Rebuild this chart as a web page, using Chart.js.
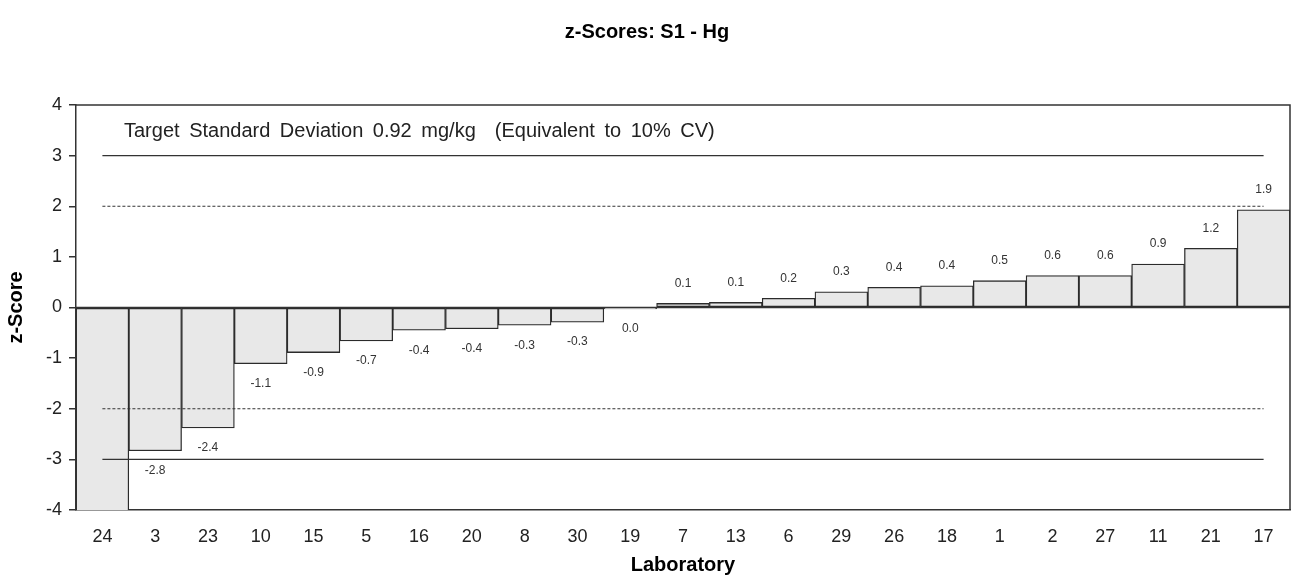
<!DOCTYPE html>
<html>
<head>
<meta charset="utf-8">
<script src="https://cdn.jsdelivr.net/npm/chart.js@4"></script>
<style>
  html, body { margin: 0; background: #fff; }
  #wrap { width: 1300px; height: 580px; }
</style>
</head>
<body>
<div id="wrap"><canvas id="zChart"></canvas></div>
<script>
// laboratories, sorted by z-score
const labs = ["24", "3", "23", "10", "15", "5", "16", "20", "8", "30", "19", "7",
              "13", "6", "29", "26", "18", "1", "2", "27", "11", "21", "17"];
// z-scores (lab 24 runs off the bottom of the axis)
const zScores = [-4.6, -2.83, -2.38, -1.11, -0.89, -0.66, -0.45, -0.42, -0.35, -0.29, -0.03, 0.08,
                 0.10, 0.18, 0.31, 0.40, 0.43, 0.53, 0.63, 0.63, 0.86, 1.17, 1.93];
const yTicks = [-4, -3, -2, -1, 0, 1, 2, 3, 4];
const actionLimits = [-3, 3];
const warningLimits = [-2, 2];
const noteText = "Target Standard Deviation 0.92 mg/kg  (Equivalent to 10% CV)";

const F = '"Liberation Sans", Arial, sans-serif';

// box, limit lines, value labels and the note
const zPlugin = {
  id: 'zExtras',
  beforeDatasetsDraw(chart) {
    const { ctx, chartArea: a } = chart;
    ctx.save();
    ctx.strokeStyle = '#333';
    ctx.lineWidth = 1.5;
    ctx.beginPath();
    ctx.moveTo(a.left, a.top);
    ctx.lineTo(a.right, a.top);
    ctx.lineTo(a.right, a.bottom);
    ctx.stroke();
    ctx.restore();
  },
  afterDatasetsDraw(chart) {
    const { ctx, chartArea: a, scales: { x, y } } = chart;
    const x0 = x.getPixelForValue(0);
    const x1 = x.getPixelForValue(labs.length - 1);
    ctx.save();
    ctx.strokeStyle = '#333';

    // zero line
    ctx.lineWidth = 1.5;
    const y0 = y.getPixelForValue(0);
    ctx.beginPath();
    ctx.moveTo(a.left, y0);
    ctx.lineTo(a.right, y0);
    ctx.stroke();

    // +-3 solid
    ctx.lineWidth = 1.2;
    actionLimits.forEach(v => {
      const py = y.getPixelForValue(v);
      ctx.beginPath();
      ctx.moveTo(x0, py);
      ctx.lineTo(x1, py);
      ctx.stroke();
    });

    // +-2 dashed
    ctx.lineWidth = 1;
    ctx.setLineDash([3, 2]);
    warningLimits.forEach(v => {
      const py = y.getPixelForValue(v);
      ctx.beginPath();
      ctx.moveTo(x0, py);
      ctx.lineTo(x1, py);
      ctx.stroke();
    });
    ctx.setLineDash([]);

    // value labels
    ctx.font = '12px ' + F;
    ctx.fillStyle = '#333';
    ctx.textAlign = 'center';
    ctx.textBaseline = 'middle';
    const meta = chart.getDatasetMeta(0);
    meta.data.forEach((bar, i) => {
      const v = zScores[i];
      if (v < y.min || v > y.max) return;
      const txt = (Math.round(v * 10) / 10).toFixed(1);
      const ty = v >= 0 ? bar.y - 20 : bar.y + 20;
      ctx.fillText(txt, bar.x, ty);
    });

    // note
    ctx.font = '20px ' + F;
    ctx.fillStyle = '#222';
    ctx.textAlign = 'left';
    ctx.wordSpacing = '4px';
    ctx.fillText(noteText, a.left + 48, a.top + 26);
    ctx.restore();
  }
};

new Chart(document.getElementById('zChart'), {
  type: 'bar',
  data: {
    labels: labs,
    datasets: [{
      data: zScores,
      backgroundColor: '#e8e8e8',
      borderColor: '#2b2b2b',
      borderWidth: 1.3,
      borderSkipped: false,
      barPercentage: 1,
      categoryPercentage: 1,
      clip: 0
    }]
  },
  options: {
    responsive: true,
    maintainAspectRatio: false,
    animation: false,
    layout: { padding: { left: 4, right: 10, top: 0, bottom: 0 } },
    plugins: {
      legend: { display: false },
      tooltip: { enabled: false },
      title: {
        display: true,
        text: 'z-Scores: S1 - Hg',
        color: '#000',
        font: { family: F, size: 20, weight: 'bold' },
        padding: { top: 20, bottom: 61 }
      }
    },
    scales: {
      x: {
        grid: { display: false, drawTicks: false },
        border: { display: true, color: '#333', width: 1.5 },
        ticks: { color: '#222', font: { family: F, size: 18 }, padding: 16, maxRotation: 0, autoSkip: false },
        title: {
          display: true, text: 'Laboratory', color: '#000',
          font: { family: F, size: 20, weight: 'bold' },
          padding: { top: 0, bottom: 3 }
        },
        afterFit(s) { s.height = 70; }
      },
      y: {
        min: -4,
        max: 4,
        afterBuildTicks(s) { s.ticks = yTicks.map(v => ({ value: v })); },
        grid: { drawOnChartArea: false, drawTicks: true, tickLength: 7, color: '#333', lineWidth: 1.5 },
        border: { color: '#333', width: 1.5 },
        ticks: { color: '#222', font: { family: F, size: 18 }, padding: 7 },
        title: {
          display: true, text: 'z-Score', color: '#000',
          font: { family: F, size: 20, weight: 'bold' },
          padding: { top: 0, bottom: 0 }
        },
        afterFit(s) { s.width = 72; }
      }
    }
  },
  plugins: [zPlugin]
});
</script>
</body>
</html>
